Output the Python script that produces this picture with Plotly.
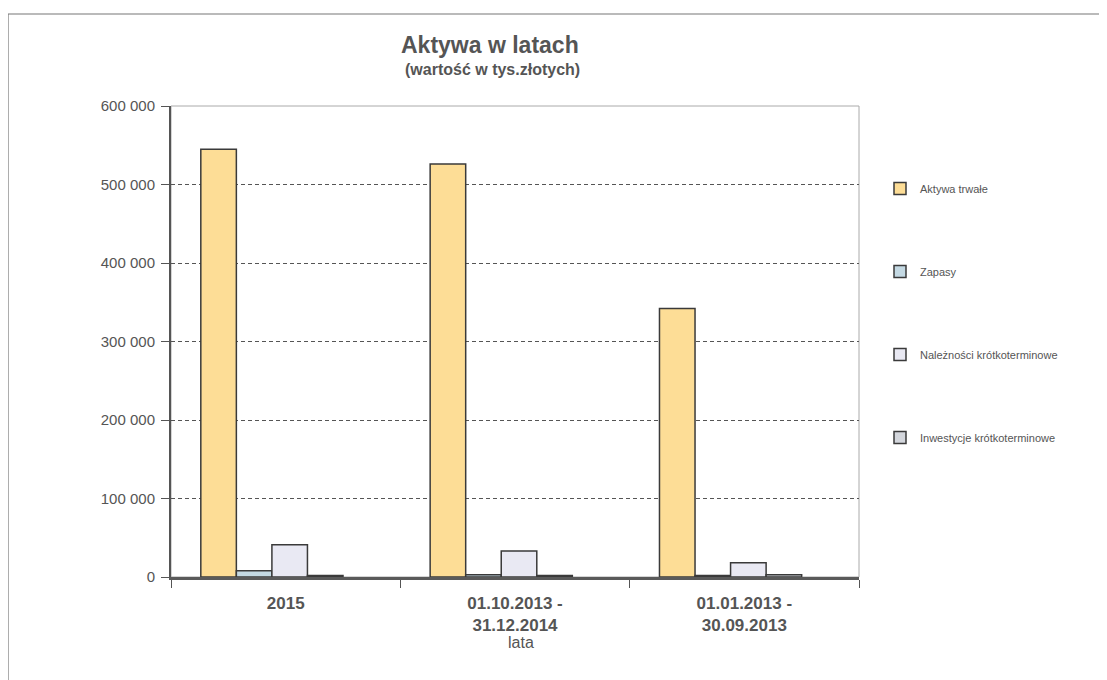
import plotly.graph_objects as go

categories = ["2015", "01.10.2013 -<br>31.12.2014", "01.01.2013 -<br>30.09.2013"]
aktywa_trwale = [545000, 526000, 342000]
zapasy = [8000, 3000, 2000]
naleznosci = [41000, 33000, 18000]
inwestycje = [2000, 2000, 3000]
series_names = ["Aktywa trwałe", "Zapasy", "Należności krótkoterminowe", "Inwestycje krótkoterminowe"]
y_ticks = [0, 100000, 200000, 300000, 400000, 500000, 600000]

colors = ["#FDDD96", "#C4D9E3", "#E9E9F3", "#D3D6DC"]
offsets = [-0.37, -0.215, -0.06, 0.095]
bar_w = 0.155

# plot area in window pixels (page has 8px body margin)
PL, PR, PT, PB = 171, 859, 106, 577
PW, PH = PR - PL, PB - PT


def px(x):
    return (x - PL) / PW


def py(y):
    return (PB - y) / PH


fig = go.Figure()
for name, vals, col, off in zip(series_names, [aktywa_trwale, zapasy, naleznosci, inwestycje], colors, offsets):
    fig.add_trace(go.Bar(
        x=categories, y=vals, name=name, width=bar_w, offset=off,
        marker=dict(color=col, line=dict(color="#3a3a3a", width=1.5)),
        legendgroup=name,
    ))

fig.update_layout(
    width=1107, height=680,
    margin=dict(l=PL - 8, r=8 + 1107 - PR, t=PT - 8, b=8 + 680 - PB),
    paper_bgcolor="white", plot_bgcolor="white",
    separators=", ",
    barmode="group",
    showlegend=True,
    legend=dict(
        x=px(880), y=py(174), xanchor="left", yanchor="top",
        font=dict(family="Liberation Sans, Arial", size=11, color="#555555"),
        tracegroupgap=64, itemwidth=30,
        bgcolor="rgba(0,0,0,0)",
    ),
    font=dict(family="Liberation Sans, Arial", color="#555555"),
)

fig.update_yaxes(
    range=[0, 600000], tickvals=y_ticks, tickformat=",d",
    tickfont=dict(family="Liberation Sans, Arial", size=15, color="#555555"),
    showgrid=True, gridcolor="#555555", griddash="4px,3px", gridwidth=1,
    showline=True, linecolor="#555555", linewidth=2,
    ticks="outside", ticklen=8, tickcolor="#555555", ticklabelstandoff=3,
    zeroline=False,
)
fig.update_xaxes(
    tickfont=dict(family="Liberation Sans, Arial", size=17, color="#555555", weight="bold"),
    showline=True, linecolor="#5a5a5a", linewidth=2.5,
    ticks="outside", tickson="boundaries", ticklen=8, tickcolor="#555555",
    ticklabelstandoff=9,
    showgrid=False,
)

# plot-area border (top/right) and outer frame
fig.add_shape(type="rect", xref="paper", yref="paper", x0=0, y0=0, x1=1, y1=1,
              line=dict(color="#AAAAAA", width=1), layer="below")
fig.add_shape(type="rect", xref="paper", yref="paper",
              x0=px(8), y0=py(692), x1=px(1100), y1=py(14),
              line=dict(color="#777777", width=1.2), layer="below")

fig.add_annotation(text="<b>Aktywa w latach</b>", xref="paper", yref="paper",
                   x=px(490), y=py(45), xanchor="center", yanchor="middle", showarrow=False,
                   font=dict(family="Liberation Sans, Arial", size=23, color="#555555"))
fig.add_annotation(text="<b>(wartość w tys.złotych)</b>", xref="paper", yref="paper",
                   x=px(492), y=py(69), xanchor="center", yanchor="middle", showarrow=False,
                   font=dict(family="Liberation Sans, Arial", size=16, color="#555555"))
fig.add_annotation(text="lata", xref="paper", yref="paper",
                   x=px(521), y=py(642), xanchor="center", yanchor="middle", showarrow=False,
                   font=dict(family="Liberation Sans, Arial", size=16, color="#555555"))

fig.write_html("out.html")
